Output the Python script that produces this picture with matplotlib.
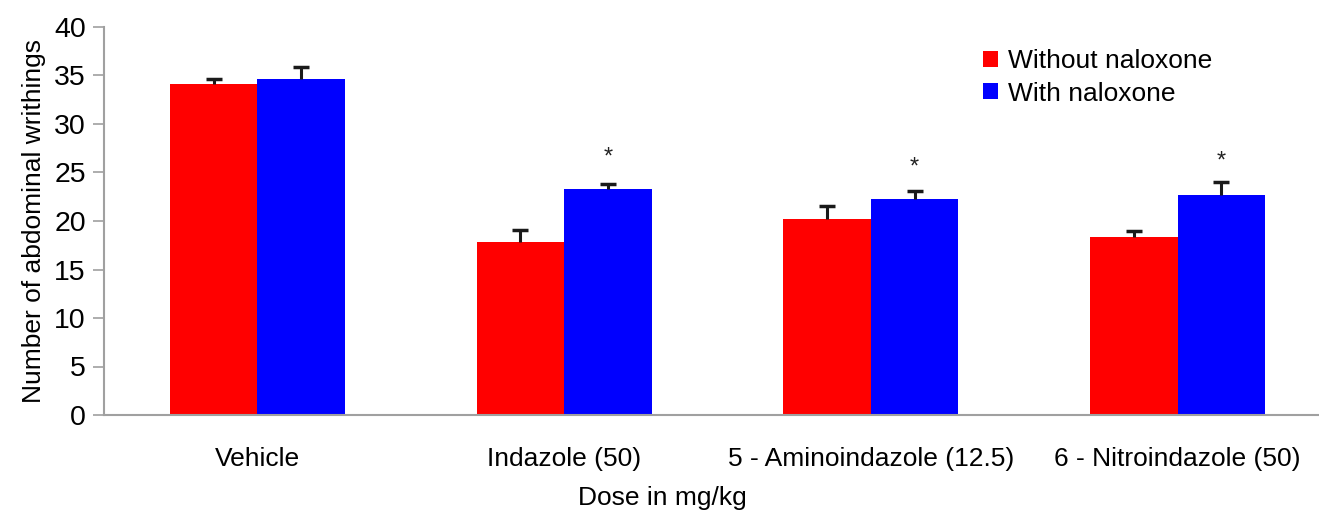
import numpy as np
import matplotlib
matplotlib.use("Agg")
import matplotlib.pyplot as plt

# values
groups = ["Vehicle", "Indazole (50)", "5 - Aminoindazole (12.5)", "6 - Nitroindazole (50)"]
without_nal = [34.1, 17.8, 20.2, 18.3]
without_err = [0.5, 1.3, 1.3, 0.7]
with_nal = [34.6, 23.3, 22.3, 22.7]
with_err = [1.3, 0.5, 0.8, 1.3]
star_y = [None, 26.5, 25.5, 26.1]

plt.rcParams['font.family'] = ['Liberation Sans', 'DejaVu Sans']

W, H = 1319, 514
fig = plt.figure(figsize=(W / 100, H / 100), dpi=100)
ax = fig.add_axes([104 / W, (H - 415) / H, 1227 / W, 388 / H])

x = np.arange(len(groups))
bw = 0.285
ecol = "#1a1a1a"
series = [(x - bw / 2, without_nal, without_err, "#ff0000", "Without naloxone"),
          (x + bw / 2, with_nal, with_err, "#0000ff", "With naloxone")]
for xs, vals, errs, col, lab in series:
    ax.bar(xs, vals, bw, color=col, label=lab)
    # upper-only error bars with a cap at the top
    tops = np.array(vals) + np.array(errs)
    ax.vlines(xs, vals, tops, color=ecol, linewidth=2.2, zorder=3)
    ax.plot(xs, tops, linestyle="none", marker="_", markersize=12,
            markeredgewidth=2.5, color=ecol, zorder=3)

for i, s in enumerate(star_y):
    if s is not None:
        ax.text(x[i] + bw / 2, s, "*", ha="center", va="center", fontsize=17, color="#222222")

ax.set_xlim(-0.5, 3.5)
ax.set_ylim(0, 40)
ax.set_yticks(range(0, 41, 5))
ax.set_xticks(x)
ax.set_xticklabels(groups)
ax.tick_params(axis="y", labelsize=20.5, length=8, width=1.2, color="#a0a0a0", pad=5)
ax.tick_params(axis="x", labelsize=19, length=0, pad=23)
for sp in ["top", "right"]:
    ax.spines[sp].set_visible(False)
for sp in ["left", "bottom"]:
    ax.spines[sp].set_color("#a0a0a0")
    ax.spines[sp].set_linewidth(1.5)

ax.set_ylabel("Number of abdominal writhings", fontsize=19, labelpad=6)
ax.set_xlabel("Dose in mg/kg", fontsize=19)
ax.xaxis.set_label_coords(0.455, -0.184)

ax.legend(loc="upper left", bbox_to_anchor=(983 / W, 1 - 49 / H),
          bbox_transform=fig.transFigure, frameon=False, fontsize=19,
          handlelength=0.55, handleheight=0.55, handletextpad=0.4,
          labelspacing=0.33, borderpad=0, borderaxespad=0)

fig.savefig("out.png", dpi=100)
